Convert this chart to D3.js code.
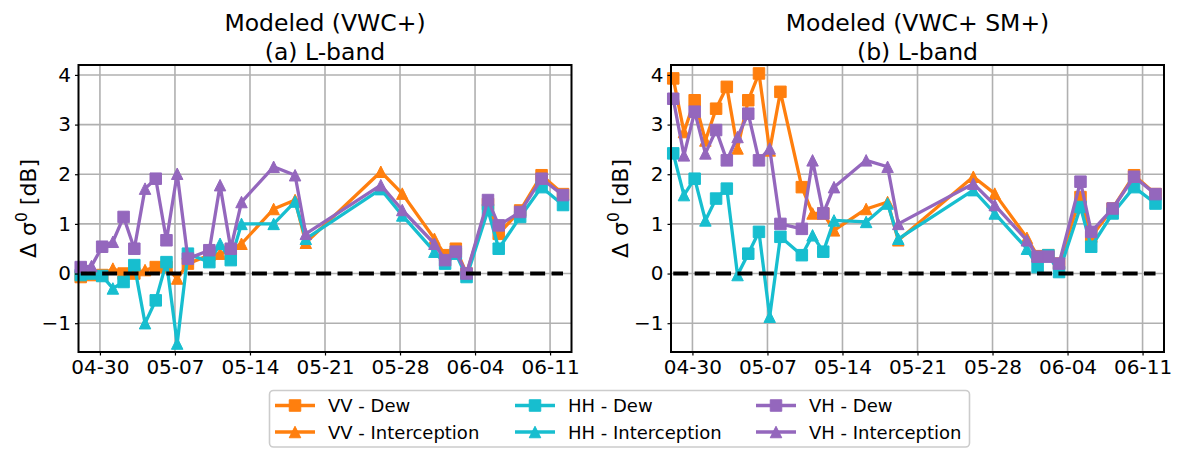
<!DOCTYPE html>
<html>
<head>
<meta charset="utf-8">
<script src="https://d3js.org/d3.v7.min.js"></script>
<style>
  body { margin: 0; background: #fff; }
  svg { display: block; font-family: 'DejaVu Sans', sans-serif; }
</style>
</head>
<body>
<svg></svg>
<script>
// event dates (measurement time ~05:00) and event type: D = dew, I = interception
const dates = [
  '04-28', '04-29', '04-30', '05-01', '05-02', '05-03', '05-04', '05-05', '05-06', '05-07',
  '05-08', '05-10', '05-11', '05-12', '05-13', '05-16', '05-18', '05-19', '05-26', '05-28',
  '05-31', '06-01', '06-02', '06-03', '06-05', '06-06', '06-08', '06-10', '06-12'
]
const events = [
  'D', 'I', 'D', 'I', 'D', 'D', 'I', 'D', 'D', 'I',
  'D', 'D', 'I', 'D', 'I', 'I', 'I', 'I', 'I', 'I',
  'I', 'D', 'D', 'D', 'D', 'D', 'D', 'D', 'D'
]

// (a) Modeled (VWC+)
const vvA = [-0.07, -0.03, -0.03, 0.1, 0.0, 0.0, 0.07, 0.13, 0.13, -0.1,
  0.2, 0.37, 0.4, 0.47, 0.6, 1.3, 1.48, 0.62, 2.05, 1.61,
  0.7, 0.37, 0.5, 0.0, 1.4, 0.8, 1.27, 1.98, 1.6]
const hhA = [-0.03, 0.0, -0.05, -0.3, -0.17, 0.17, -1.0, -0.54, 0.23, -1.41,
  0.4, 0.23, 0.6, 0.27, 1.0, 1.0, 1.45, 0.7, 1.7, 1.17,
  0.44, 0.2, 0.4, -0.07, 1.28, 0.5, 1.14, 1.74, 1.38]
const vhA = [0.13, 0.15, 0.54, 0.64, 1.14, 0.5, 1.71, 1.91, 0.67, 2.01,
  0.3, 0.47, 1.78, 0.5, 1.44, 2.15, 1.98, 0.8, 1.78, 1.28,
  0.6, 0.27, 0.44, 0.0, 1.48, 0.97, 1.24, 1.91, 1.58]

// (b) Modeled (VWC+ SM+)
const vvB = [3.93, 2.85, 3.49, 2.68, 3.32, 3.76, 2.52, 3.49, 4.03, 2.48,
  3.66, 1.74, 1.21, 1.21, 0.87, 1.3, 1.44, 0.67, 1.95, 1.61,
  0.72, 0.35, 0.37, 0.2, 1.54, 0.74, 1.31, 1.98, 1.6]
const hhB = [2.42, 1.58, 1.91, 1.07, 1.51, 1.71, -0.03, 0.4, 0.84, -0.87,
  0.74, 0.37, 0.77, 0.44, 1.07, 1.04, 1.41, 0.7, 1.68, 1.21,
  0.5, 0.13, 0.37, 0.03, 1.34, 0.54, 1.21, 1.74, 1.41]
const vhB = [3.52, 2.38, 3.26, 2.42, 2.89, 2.28, 2.75, 3.22, 2.28, 2.52,
  1.0, 0.9, 2.28, 1.21, 1.74, 2.28, 2.15, 1.0, 1.81, 1.38,
  0.67, 0.34, 0.34, 0.2, 1.85, 0.84, 1.31, 1.95, 1.6]

const pols = ['VV', 'HH', 'VH']
const eventNames = {D: 'Dew', I: 'Interception'}
const xLimits = ['04-28', '06-13']
const xTickDates = ['04-30', '05-07', '05-14', '05-21', '05-28', '06-04', '06-11']
const yTicks = [-1, 0, 1, 2, 3, 4]
const yLimits = [-1.58, 4.2]

const panels = [
  {title: ['Modeled (VWC+)', '(a) L-band'], values: [vvA, hhA, vhA], x0: 78.5},
  {title: ['Modeled (VWC+ SM+)', '(b) L-band'], values: [vvB, hhB, vhB], x0: 671}
]

const width = 1178
const height = 449
const colors = {VV: '#ff7f0e', HH: '#17becf', VH: '#9467bd'}
const plotW = 493
const plotTop = 65
const plotBottom = 352
const msize = 11.5
const lw = 3.3

const parse = d3.timeParse('%Y-%m-%dT%H:%M')
const day = s => parse('2021-' + s + 'T00:00')
const obs = s => parse('2021-' + s + 'T05:00')

const markerPath = (type, s) => {
  const h = s / 2
  return type === 'D'
    ? `M${-h},${-h}h${s}v${s}h${-s}Z`
    : `M0,${-h}L${h},${h}L${-h},${h}Z`
}

const svg = d3.select('svg')
  .attr('width', width)
  .attr('height', height)

const y = d3.scaleLinear().domain(yLimits).range([plotBottom, plotTop])

panels.forEach((p, pi) => {
  const x = d3.scaleTime()
    .domain(xLimits.map(day))
    .range([p.x0, p.x0 + plotW])

  const g = svg.append('g')

  // grid
  g.selectAll('.vgrid')
    .data(xTickDates)
    .enter()
    .append('line')
      .attr('x1', d => x(day(d)))
      .attr('x2', d => x(day(d)))
      .attr('y1', plotTop)
      .attr('y2', plotBottom)
      .attr('stroke', '#b0b0b0')
      .attr('stroke-width', 1.6)

  g.selectAll('.hgrid')
    .data(yTicks)
    .enter()
    .append('line')
      .attr('x1', p.x0)
      .attr('x2', p.x0 + plotW)
      .attr('y1', d => y(d))
      .attr('y2', d => y(d))
      .attr('stroke', '#b0b0b0')
      .attr('stroke-width', 1.6)

  // series
  p.values.forEach((vals, k) => {
    const pts = dates.map((d, i) => ({t: obs(d), v: vals[i], e: events[i]}))
    const c = colors[pols[k]]
    g.append('path')
      .datum(pts)
      .attr('fill', 'none')
      .attr('stroke', c)
      .attr('stroke-width', lw)
      .attr('stroke-linejoin', 'round')
      .attr('d', d3.line().x(d => x(d.t)).y(d => y(d.v)))
    g.selectAll('.m' + k)
      .data(pts)
      .enter()
      .append('path')
        .attr('transform', d => `translate(${x(d.t)},${y(d.v)})`)
        .attr('d', d => markerPath(d.e, msize))
        .attr('fill', c)
        .attr('stroke', c)
        .attr('stroke-width', 1)
  })

  // zero line
  g.append('line')
    .attr('x1', x(obs(dates[0])))
    .attr('x2', x(obs(dates[dates.length - 1])))
    .attr('y1', y(0))
    .attr('y2', y(0))
    .attr('stroke', '#000')
    .attr('stroke-width', 4)
    .attr('stroke-dasharray', '15,6.4')

  // frame
  g.append('rect')
    .attr('x', p.x0)
    .attr('y', plotTop)
    .attr('width', plotW)
    .attr('height', plotBottom - plotTop)
    .attr('fill', 'none')
    .attr('stroke', '#000')
    .attr('stroke-width', 2)

  // axes
  const xAxis = d3.axisBottom(x)
    .tickValues(xTickDates.map(day))
    .tickFormat(d3.timeFormat('%m-%d'))
    .tickSize(3.5)
    .tickPadding(4)
  const ax = g.append('g')
    .attr('transform', `translate(0,${plotBottom})`)
    .call(xAxis)
  ax.select('.domain').remove()

  const yAxis = d3.axisLeft(y)
    .tickValues(yTicks)
    .tickFormat(d => d < 0 ? '\u2212' + Math.abs(d) : d)
    .tickSize(3.5)
    .tickPadding(4)
  const ay = g.append('g')
    .attr('transform', `translate(${p.x0},0)`)
    .call(yAxis)
  ay.select('.domain').remove()

  g.selectAll('.tick text')
    .attr('font-family', 'DejaVu Sans')
    .attr('font-size', 20)
    .attr('fill', '#000')
  g.selectAll('.tick line')
    .attr('stroke', '#000')
    .attr('stroke-width', 1.2)

  // titles
  g.selectAll('.title')
    .data(p.title)
    .enter()
    .append('text')
      .attr('x', p.x0 + plotW / 2)
      .attr('y', (d, i) => 31 + i * 29)
      .attr('text-anchor', 'middle')
      .attr('font-size', 23.5)
      .text(d => d)

  // y label
  const lbl = g.append('text')
    .attr('transform', `translate(${p.x0 - 43},${(plotTop + plotBottom) / 2}) rotate(-90)`)
    .attr('text-anchor', 'middle')
    .attr('font-size', 22)
  lbl.append('tspan').text('\u0394 \u03c3')
  lbl.append('tspan').attr('dy', -9).attr('font-size', 15.5).text('0')
  lbl.append('tspan').attr('dy', 9).text(' [dB]')
})

// legend
const legendItems = []
pols.forEach(pol => ['D', 'I'].forEach(e => legendItems.push({pol, e})))
const colX = [275, 515, 756]
const rowY = [405.5, 432]

const leg = svg.append('g')
leg.append('rect')
  .attr('x', 269.5)
  .attr('y', 390.5)
  .attr('width', 700)
  .attr('height', 56.5)
  .attr('rx', 4)
  .attr('fill', '#fff')
  .attr('stroke', '#cccccc')
  .attr('stroke-width', 1.6)

const li = leg.selectAll('.item')
  .data(legendItems)
  .enter()
  .append('g')
    .attr('transform', (d, i) =>
      `translate(${colX[Math.floor(i / 2)]},${rowY[i % 2]})`)

li.append('line')
  .attr('x1', 0)
  .attr('x2', 40)
  .attr('stroke', d => colors[d.pol])
  .attr('stroke-width', lw)
li.append('path')
  .attr('transform', 'translate(20,0)')
  .attr('d', d => markerPath(d.e, msize))
  .attr('fill', d => colors[d.pol])
  .attr('stroke', d => colors[d.pol])
li.append('text')
  .attr('x', 53)
  .attr('y', 6.5)
  .attr('font-size', 18)
  .text(d => `${d.pol} - ${eventNames[d.e]}`)
</script>
</body>
</html>
